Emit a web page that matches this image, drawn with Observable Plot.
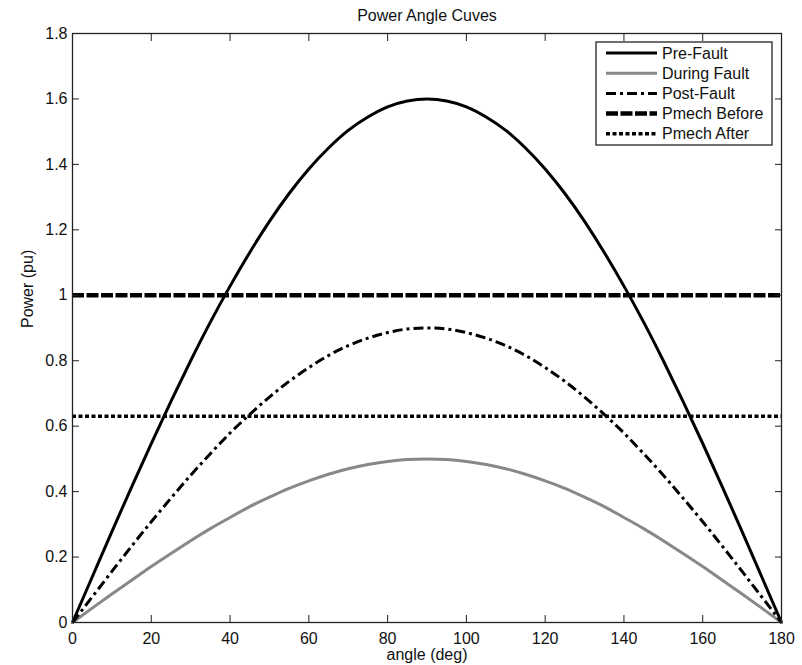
<!DOCTYPE html>
<html><head><meta charset="utf-8">
<script src="https://cdn.jsdelivr.net/npm/d3@7"></script>
<script src="https://cdn.jsdelivr.net/npm/@observablehq/plot@0.6"></script>
<style>body{margin:0;background:#fff} svg{display:block}</style>
</head><body><div id="chart"></div>
<script>
// ---- data ----
const angles      = [0, 5, 10, 15, 20, 25, 30, 35, 40, 45, 50, 55, 60, 65, 70, 75, 80, 85, 90,
                     95, 100, 105, 110, 115, 120, 125, 130, 135, 140, 145, 150, 155, 160, 165, 170, 175, 180];
const preFault    = [0, 0.139, 0.278, 0.414, 0.547, 0.676, 0.800, 0.918, 1.028, 1.131, 1.226, 1.311, 1.386, 1.450, 1.504, 1.545, 1.576, 1.594, 1.600,
                     1.594, 1.576, 1.545, 1.504, 1.450, 1.386, 1.311, 1.226, 1.131, 1.028, 0.918, 0.800, 0.676, 0.547, 0.414, 0.278, 0.139, 0];
const duringFault = [0, 0.044, 0.087, 0.129, 0.171, 0.211, 0.250, 0.287, 0.321, 0.354, 0.383, 0.410, 0.433, 0.453, 0.470, 0.483, 0.492, 0.498, 0.500,
                     0.498, 0.492, 0.483, 0.470, 0.453, 0.433, 0.410, 0.383, 0.354, 0.321, 0.287, 0.250, 0.211, 0.171, 0.129, 0.087, 0.044, 0];
const postFault   = [0, 0.078, 0.156, 0.233, 0.308, 0.380, 0.450, 0.516, 0.579, 0.636, 0.689, 0.737, 0.779, 0.816, 0.846, 0.869, 0.886, 0.897, 0.900,
                     0.897, 0.886, 0.869, 0.846, 0.816, 0.779, 0.737, 0.689, 0.636, 0.579, 0.516, 0.450, 0.380, 0.308, 0.233, 0.156, 0.078, 0];
const pmechBefore = [1.0];
const pmechAfter  = [0.63];
const seriesNames = ["Pre-Fault", "During Fault", "Post-Fault", "Pmech Before", "Pmech After"];
const xTicks = [0, 20, 40, 60, 80, 100, 120, 140, 160, 180];
const yTicks = [0, 0.2, 0.4, 0.6, 0.8, 1.0, 1.2, 1.4, 1.6, 1.8];
const yTickLabels = ["0", "0.2", "0.4", "0.6", "0.8", "1", "1.2", "1.4", "1.6", "1.8"];
const titleText = "Power Angle Cuves";
const xLabel = "angle (deg)";
const yLabel = "Power (pu)";

// ---- styles ----
const FONT = "'Liberation Sans', Arial, Helvetica, sans-serif";
const styles = [
  {stroke: "#000", strokeWidth: 3,   dash: null},
  {stroke: "#888", strokeWidth: 3,   dash: null},
  {stroke: "#000", strokeWidth: 3,   dash: "10,4,3,4"},
  {stroke: "#000", strokeWidth: 4.5, dash: "12,2.5"},
  {stroke: "#000", strokeWidth: 3.5, dash: "4,2.5"}
];
const W = 802, H = 665;
const M = {top: 33, right: 21, bottom: 43, left: 72};

const rows = (ys) => angles.map((a, i) => ({angle: a, power: ys[i]}));
const curveMark = (ys, s) => Plot.line(rows(ys), {
  x: "angle", y: "power", curve: "natural",
  stroke: s.stroke, strokeWidth: s.strokeWidth,
  strokeDasharray: s.dash, strokeLinecap: s.dash ? "butt" : "round"
});
const hMark = (v, s) => Plot.ruleY(v, {
  x1: angles[0], x2: angles[angles.length - 1],
  stroke: s.stroke, strokeWidth: s.strokeWidth,
  strokeDasharray: s.dash, strokeLinecap: "butt"
});

const chart = Plot.plot({
  width: W, height: H,
  marginTop: M.top, marginRight: M.right, marginBottom: M.bottom, marginLeft: M.left,
  style: {fontFamily: FONT, fontSize: "16px", color: "#111", background: "#fff"},
  x: {domain: [0, 180], label: null},
  y: {domain: [0, 1.8], label: null},
  marks: [
    curveMark(preFault, styles[0]),
    curveMark(duringFault, styles[1]),
    curveMark(postFault, styles[2]),
    hMark(pmechBefore, styles[3]),
    hMark(pmechAfter, styles[4]),
    Plot.frame({stroke: "#222", strokeWidth: 1.3}),
    Plot.axisY(yTicks, {anchor: "left", tickSize: -7, tickPadding: 12, fontSize: 16,
      stroke: "#222", tickFormat: d => yTickLabels[yTicks.indexOf(d)]}),
    Plot.axisY(yTicks, {anchor: "right", tickSize: -7, stroke: "#222", tickFormat: () => ""}),
    Plot.axisX(xTicks, {anchor: "bottom", tickSize: -7, tickPadding: 17.5, fontSize: 16,
      stroke: "#222", tickFormat: d => String(d)}),
    Plot.axisX(xTicks, {anchor: "top", tickSize: -7, stroke: "#222", tickFormat: () => ""}),
    Plot.text([titleText], {frameAnchor: "top", dy: -18, fontSize: 16, lineAnchor: "middle", fill: "#111"}),
    Plot.text([xLabel], {frameAnchor: "bottom", dy: 32, fontSize: 16, lineAnchor: "middle", fill: "#111"}),
    Plot.text([yLabel], {frameAnchor: "left", dx: -45, rotate: -90, fontSize: 16, lineAnchor: "middle", fill: "#111"})
  ]
});
document.getElementById("chart").append(chart);

// ---- legend (inside the plot area, top-right) ----
const svg = d3.select(chart);
const boxW = 176, boxH = 103;
const bx = W - M.right - 9 - boxW, by = M.top + 9;
const lg = svg.append("g").attr("class", "legend").attr("text-anchor", "start");
lg.append("rect").attr("x", bx).attr("y", by).attr("width", boxW).attr("height", boxH)
  .attr("fill", "#fff").attr("stroke", "#222").attr("stroke-width", 1.3);
seriesNames.forEach((name, i) => {
  const s = styles[i];
  const yy = by + 11 + i * 20.2;
  lg.append("line").attr("x1", bx + 10).attr("x2", bx + 61).attr("y1", yy).attr("y2", yy)
    .attr("stroke", s.stroke).attr("stroke-width", s.strokeWidth)
    .attr("stroke-dasharray", s.dash).attr("stroke-linecap", "butt");
  lg.append("text").attr("x", bx + 66).attr("y", yy).attr("dy", "0.35em")
    .attr("text-anchor", "start")
    .attr("font-family", FONT).attr("font-size", 16).attr("fill", "#111").text(name);
});
</script>
</body></html>
